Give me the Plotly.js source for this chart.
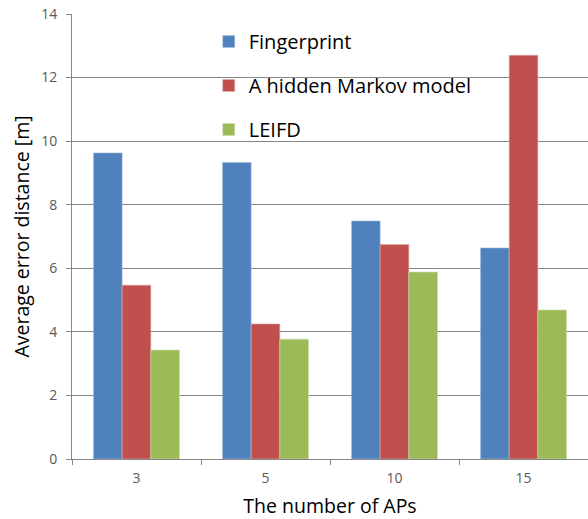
<!DOCTYPE html>
<html>
<head>
<meta charset="utf-8">
<script src="https://cdn.plot.ly/plotly-3.0.1.min.js"></script>
<style>html,body{margin:0;padding:0;background:#fff;}#chart{width:588px;height:519px;}</style>
</head>
<body>
<div id="chart"></div>
<script>
var categories = ["3", "5", "10", "15"];
var fingerprint = [9.63, 9.33, 7.49, 6.64];
var hiddenMarkov = [5.47, 4.25, 6.75, 12.70];
var leifd = [3.43, 3.77, 5.88, 4.69];
var seriesNames = ["Fingerprint", "A hidden Markov model", "LEIFD"];
var yTicks = [0, 2, 4, 6, 8, 10, 12, 14];

var colors = ["#4F81BD", "#C0504D", "#9BBB59"];
var edges = ["#A7C0E0", "#E0A8A6", "#CDDDAC"];
var allVals = [fingerprint, hiddenMarkov, leifd];

var data = allVals.map(function (v, i) {
  return {
    type: "bar",
    x: categories,
    y: v,
    name: seriesNames[i],
    legendgroup: "g" + i,
    marker: { color: colors[i], line: { color: edges[i], width: 0.6 } }
  };
});

var font = "'Open Sans', 'Noto Sans', sans-serif";
var layout = {
  width: 588,
  height: 519,
  margin: { l: 72, r: 0, t: 14, b: 60 },
  paper_bgcolor: "#fff",
  plot_bgcolor: "#fff",
  font: { family: font, color: "#000" },
  barmode: "group",
  bargap: 0.333,
  bargroupgap: 0,
  showlegend: true,
  legend: {
    x: 0.265, y: 0.982, xanchor: "left", yanchor: "top",
    font: { size: 20, family: font, color: "#000" },
    bgcolor: "rgba(0,0,0,0)",
    tracegroupgap: 15,
    traceorder: "grouped",
    itemwidth: 30
  },
  xaxis: {
    type: "category",
    showline: true, linecolor: "#868686", linewidth: 1,
    ticks: "outside", tickson: "boundaries", ticklen: 5, tickcolor: "#868686",
    ticklabelstandoff: 6,
    tickfont: { size: 14, color: "#595959", family: font },
    showgrid: false,
    title: { text: "The number of APs", font: { size: 19.5, color: "#000", family: font }, standoff: 16 }
  },
  yaxis: {
    range: [0, 14],
    tickvals: yTicks,
    ticktext: yTicks.map(String),
    showline: true, linecolor: "#868686", linewidth: 1,
    ticks: "outside", ticklen: 5, tickcolor: "#868686",
    ticklabelstandoff: 6,
    tickfont: { size: 14, color: "#595959", family: font },
    showgrid: true, gridcolor: "#868686", gridwidth: 1,
    zeroline: false,
    title: { text: "Average error distance [m]", font: { size: 19.5, color: "#000", family: font }, standoff: 6 }
  }
};

Plotly.newPlot("chart", data, layout, { displayModeBar: false, staticPlot: true });
</script>
</body>
</html>
